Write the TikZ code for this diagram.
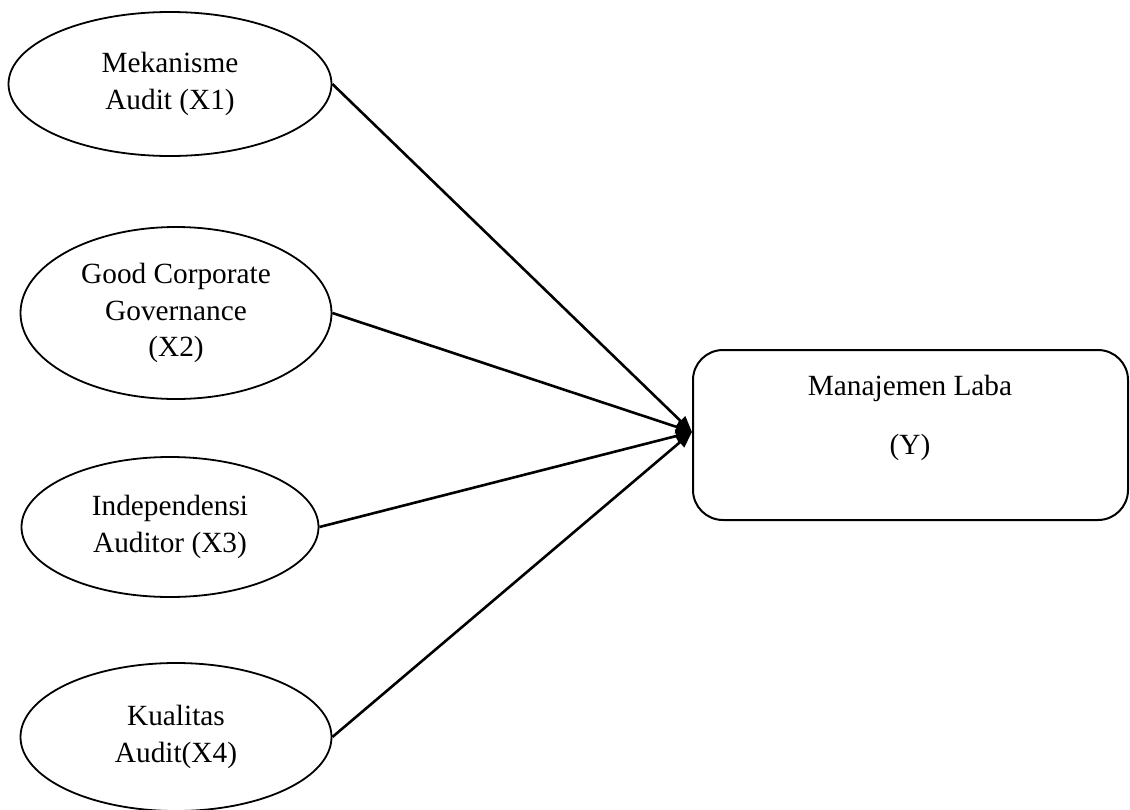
\documentclass[tikz,border=0pt]{standalone}
\usepackage{fontspec}
\setmainfont{Liberation Serif}
\usetikzlibrary{shapes.geometric,arrows.meta}
\tikzset{
  var/.style={ellipse, draw, line width=1.8pt, inner sep=0pt, align=center,
    font=\fontsize{29.3}{36.5}\selectfont},
  ybox/.style={draw, line width=2pt, rounded corners=30pt, minimum width=435pt,
    minimum height=170pt, inner sep=0pt},
  lbl/.style={align=center, font=\fontsize{29.3}{36.5}\selectfont},
  path/.style={line width=2.6pt, -{Triangle[length=16pt,width=13pt]}}
}
\begin{document}
\begin{tikzpicture}[x=1pt,y=-1pt]
\useasboundingbox (0,0) rectangle (1130,809);
\node[var, minimum width=323pt, minimum height=144pt] (x1) at (170,84) {Mekanisme\\Audit (X1)};
\node[var, minimum width=311pt, minimum height=172pt] (x2) at (176,313) {Good Corporate\\Governance\\(X2)};
\node[var, minimum width=297pt, minimum height=140pt] (x3) at (170,527) {Independensi\\Auditor (X3)};
\node[var, minimum width=311pt, minimum height=148pt] (x4) at (176,737) {Kualitas\\Audit(X4)};
\node[ybox] (y) at (910.5,435) {};
\node[lbl] (ylbl) at (910,418) {Manajemen Laba\\[23pt](Y)};
\coordinate (tip) at (692,432);
\draw[path] (x1.east) -- (tip);
\draw[path] (x2.east) -- (tip);
\draw[path] (x3.east) -- (tip);
\draw[path] (x4.east) -- (tip);
\end{tikzpicture}
\end{document}
